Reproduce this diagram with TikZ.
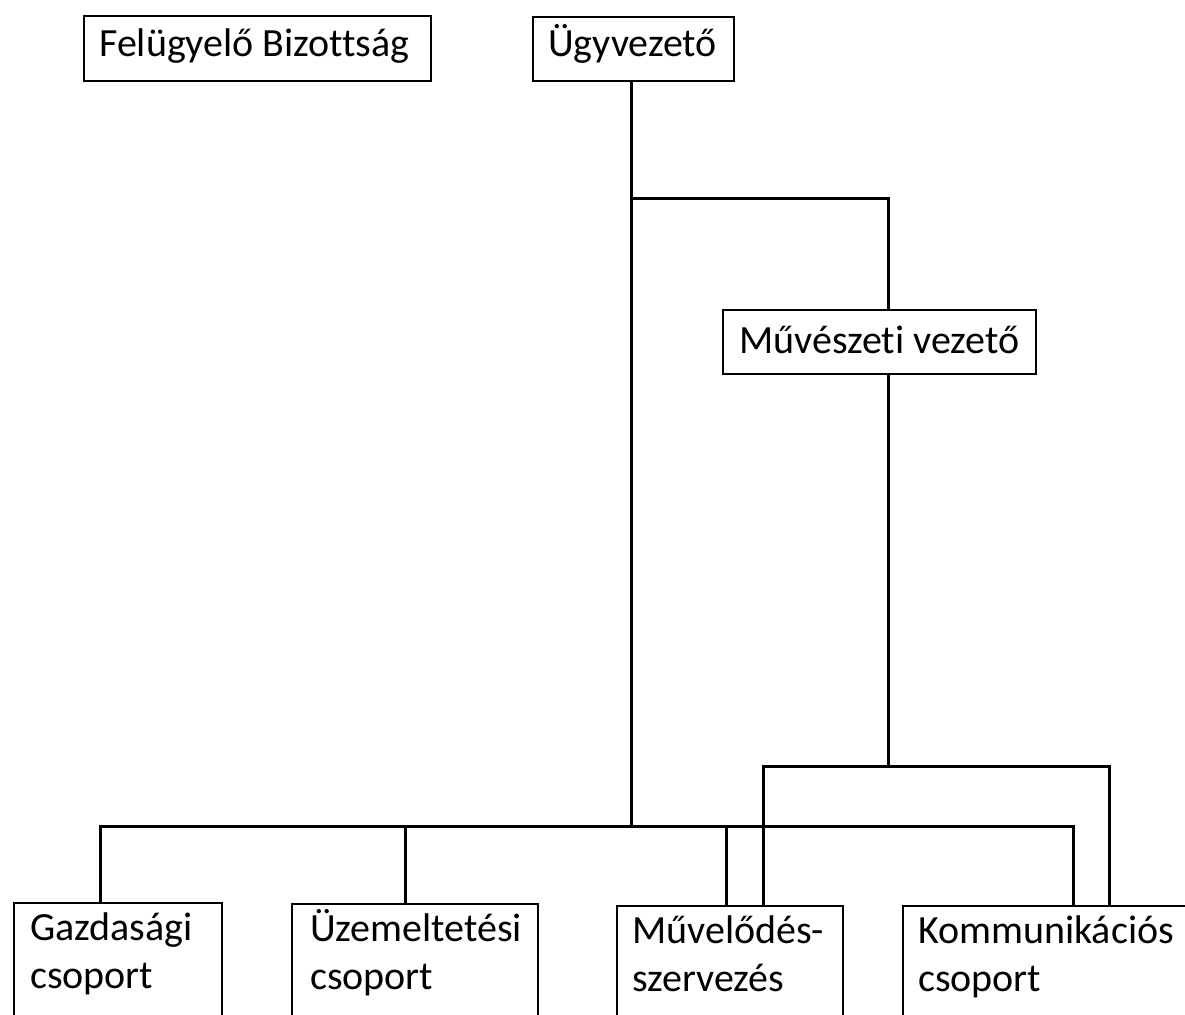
\documentclass[tikz,border=0pt]{standalone}
\usepackage{fontspec}
\setmainfont{Carlito}[Ligatures={NoCommon}]
\begin{document}
\begin{tikzpicture}[x=1pt,y=-1pt,
  box/.style={draw=black, line width=2pt, rectangle, inner sep=0pt, anchor=north west},
  lbl/.style={anchor=base west, inner sep=0pt, font=\fontsize{40}{48}\selectfont},
  conn/.style={draw=black, line width=3pt}]
\clip (0,0) rectangle (1185,1014);
\fill[white] (0,0) rectangle (1185,1014);

% boxes
\node[box, minimum width=347pt, minimum height=65pt] (fb) at (83,15) {};
\node[box, minimum width=201pt, minimum height=64pt] (ugy) at (532,16) {};
\node[box, minimum width=313pt, minimum height=64pt] (muv) at (722,309) {};
\node[box, minimum width=208pt, minimum height=150pt] (gaz) at (13,902) {};
\node[box, minimum width=246pt, minimum height=150pt] (uzem) at (291,903) {};
\node[box, minimum width=226pt, minimum height=150pt] (mvl) at (616,905) {};
\node[box, minimum width=320pt, minimum height=150pt] (komm) at (902,905) {};

% labels
\node[lbl] (fbt) at (99,57) {Felügyelő Bizottság};
\node[lbl] (ugyt) at (548,57) {Ügyvezető};
\node[lbl] (muvt) at (739,353) {Művészeti vezető};
\node[lbl] (gazt) at (30,940) {\begin{tabular}[t]{@{}l@{}}Gazdasági\\csoport\end{tabular}};
\node[lbl] (uzemt) at (310,941) {\begin{tabular}[t]{@{}l@{}}Üzemeltetési\\csoport\end{tabular}};
\node[lbl] (mvlt) at (632,943) {\begin{tabular}[t]{@{}l@{}}Művelődés-\\szervezés\end{tabular}};
\node[lbl] (kommt) at (918,943) {\begin{tabular}[t]{@{}l@{}}Kommunikációs\\csoport\end{tabular}};

% junction coordinates
\coordinate (j1) at (631,198);
\coordinate (m) at (888,198);
\coordinate (busL) at (100,826);
\coordinate (busR) at (1073,826);
\coordinate (d2) at (405,826);
\coordinate (d3) at (726,826);
\coordinate (bus2L) at (763,766);
\coordinate (bus2R) at (1109,766);

% connectors
\draw[conn] (ugy.south -| j1) -- (j1 |- busL);
\draw[conn] (j1) -- (m) -- (m |- muv.north);
\draw[conn] (m |- muv.south) -- (m |- bus2L);
\draw[conn] (bus2L |- mvl.north) -- (bus2L) -- (bus2R) -- (bus2R |- komm.north);
\draw[conn] (busL |- gaz.north) -- (busL) -- (busR) -- (busR |- komm.north);
\draw[conn] (d2) -- (d2 |- uzem.north);
\draw[conn] (d3) -- (d3 |- mvl.north);
\end{tikzpicture}
\end{document}
